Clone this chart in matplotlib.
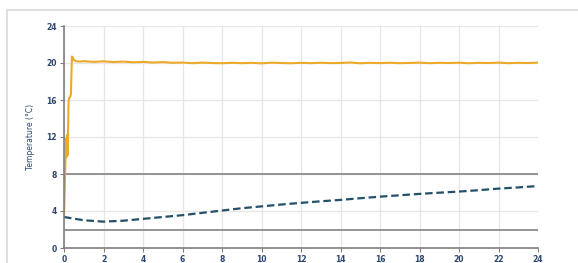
import matplotlib.pyplot as plt
from matplotlib.patches import Rectangle

# time (h) and measured room temperature (°C)
time_room = [0, 0.05, 0.1, 0.12, 0.15, 0.18, 0.2, 0.23, 0.26, 0.3, 0.35, 0.4, 0.45, 0.5, 0.6,
             0.8, 1.0, 1.5, 2.0, 2.5, 3.0, 3.5, 4.0, 4.5, 5.0, 5.5, 6.0, 6.5, 7.0, 7.5, 8.0,
             8.5, 9.0, 9.5, 10.0, 10.5, 11.0, 11.5, 12.0, 12.5, 13.0, 13.5, 14.0, 14.5, 15.0,
             15.5, 16.0, 16.5, 17.0, 17.5, 18.0, 18.5, 19.0, 19.5, 20.0, 20.5, 21.0, 21.5,
             22.0, 22.5, 23.0, 23.5, 24.0]
temp_room = [3.5, 7.5, 11.8, 9.8, 12.2, 10.0, 12.0, 15.8, 16.2, 16.3, 16.6, 20.7, 20.6, 20.3, 20.2,
             20.15, 20.2, 20.12, 20.18, 20.1, 20.15, 20.08, 20.12, 20.05, 20.1, 20.02, 20.05, 19.98, 20.04,
             20.0, 19.97, 20.03, 19.98, 20.02, 19.96, 20.04, 20.0, 19.97, 20.02, 19.98, 20.03, 19.99, 20.0,
             20.06, 19.97, 20.02, 19.99, 20.03, 19.98, 20.01, 20.04, 19.98, 20.02, 20.0, 20.03, 19.97,
             20.02, 20.0, 20.04, 19.98, 20.02, 20.0, 20.04]

# time (h) and product temperature (°C)
time_prod = [0, 1, 2, 3, 4, 5, 6, 7, 8, 9, 10, 11, 12, 13, 14, 15, 16, 17, 18, 19, 20, 21, 22, 23, 24]
temp_prod = [3.35, 3.0, 2.85, 2.95, 3.15, 3.35, 3.55, 3.8, 4.05, 4.3, 4.5, 4.7, 4.88, 5.05, 5.2,
             5.38, 5.55, 5.7, 5.85, 5.98, 6.1, 6.25, 6.42, 6.55, 6.7]

# limits
upper_limit = 8
lower_limit = 2

x_ticks = list(range(0, 25, 2))
y_ticks = list(range(0, 25, 4))

fig = plt.figure(figsize=(5.78, 2.63), dpi=100)
fig.patches.append(Rectangle((7 / 578, -0.1), 1.2, 1.1 - 10 / 263, transform=fig.transFigure,
                             fill=False, edgecolor='#d9d9d9', linewidth=1.2))
ax = fig.add_axes([64 / 578, 15 / 263, 474 / 578, 222 / 263])

ax.grid(True, color='#e6e6e6', linewidth=0.9)
ax.set_axisbelow(True)

ax.axhline(upper_limit, color='#8c8c8c', linewidth=1.3)
ax.axhline(lower_limit, color='#8c8c8c', linewidth=1.3)
ax.plot(time_room, temp_room, color='#eda92a', linewidth=1.5)
ax.plot(time_prod, temp_prod, color='#24506a', linewidth=1.6, linestyle=(0, (3.4, 1.7)))

ax.set_xlim(0, 24)
ax.set_ylim(0, 24)
ax.set_xticks(x_ticks)
ax.set_yticks(y_ticks)
ax.tick_params(labelsize=5.5, colors='#7f7f7f', labelcolor='#2b4670', length=3, width=0.8, pad=2)
for lbl in ax.get_xticklabels() + ax.get_yticklabels():
    lbl.set_fontweight('bold')
ax.set_ylabel('Temperature (°C)', fontsize=5.5, color='#2b4670', labelpad=8)

for s in ['top', 'right']:
    ax.spines[s].set_visible(False)
ax.spines['left'].set_color('#7f7f7f')
ax.spines['bottom'].set_color('#7f7f7f')
ax.spines['left'].set_linewidth(1.2)
ax.spines['bottom'].set_linewidth(1.2)

fig.savefig('out.png', dpi=100)
